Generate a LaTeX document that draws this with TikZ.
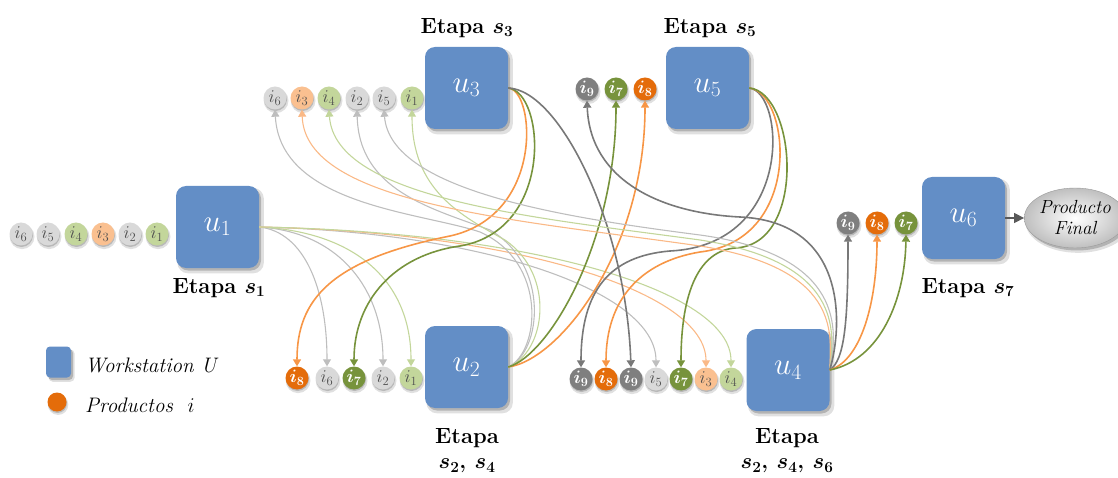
\RequirePackage{fix-cm}
\documentclass[tikz,border=0pt]{standalone}
\usetikzlibrary{arrows.meta,shapes.geometric,shadows}

% palette
\definecolor{wsblue}{RGB}{99,142,198}
\definecolor{cLG}{RGB}{217,217,217}
\definecolor{cGr}{RGB}{195,214,155}
\definecolor{cPe}{RGB}{250,192,144}
\definecolor{cDO}{RGB}{228,108,10}
\definecolor{cDG}{RGB}{119,147,60}
\definecolor{cDK}{RGB}{127,127,127}
\definecolor{cTx}{RGB}{80,80,80}
\definecolor{eLG}{RGB}{190,190,190}
\definecolor{eGr}{RGB}{195,214,155}
\definecolor{ePe}{RGB}{250,185,135}
\definecolor{eDO}{RGB}{247,150,70}
\definecolor{eDG}{RGB}{119,147,60}
\definecolor{eDK}{RGB}{120,120,120}

\tikzset{
  softshadow/.style={
    drop shadow={shadow xshift=3pt,shadow yshift=-3.5pt,opacity=0.12,fill=black,shadow scale=1.04},
    drop shadow={shadow xshift=2pt,shadow yshift=-2.5pt,opacity=0.2,fill=black}},
  dotshadow/.style={
    drop shadow={shadow xshift=1pt,shadow yshift=-2.5pt,opacity=0.12,fill=black,shadow scale=1.08},
    drop shadow={shadow xshift=0.5pt,shadow yshift=-1.5pt,opacity=0.18,fill=black}},
  ws/.style={fill=wsblue, rounded corners=10pt, minimum width=83pt, minimum height=82pt,
    inner sep=0pt, text=white, font=\fontsize{31}{34}\selectfont, softshadow},
  item/.style={circle, minimum size=23pt, inner sep=0pt, dotshadow,
    font=\fontsize{18}{20}\selectfont},
  pgray/.style={item, fill=cLG, text=cTx},
  pgreen/.style={item, fill=cGr, text=cTx},
  ppeach/.style={item, fill=cPe, text=cTx},
  pdorange/.style={item, fill=cDO, text=white, font=\fontsize{18}{20}\selectfont\boldmath},
  pdgreen/.style={item, fill=cDG, text=white, font=\fontsize{18}{20}\selectfont\boldmath},
  pdgray/.style={item, fill=cDK, text=white, font=\fontsize{18}{20}\selectfont\boldmath},
  etapa/.style={inner sep=0pt, font=\fontsize{22}{25}\selectfont\bfseries\boldmath},
  legend/.style={inner sep=0pt, anchor=west, font=\fontsize{21}{24}\selectfont\itshape},
  flow/.style={-{Triangle[width=8pt,length=7pt]}},
  lgray/.style={flow, draw=eLG, line width=1.1pt},
  lgreen/.style={flow, draw=eGr, line width=1.1pt},
  lpeach/.style={flow, draw=ePe, line width=1.1pt},
  dorange/.style={flow, draw=eDO, line width=1.6pt},
  dgreen/.style={flow, draw=eDG, line width=1.6pt},
  dgray/.style={flow, draw=eDK, line width=1.6pt},
}

\begin{document}
\begin{tikzpicture}[x=1pt,y=-1pt]
\useasboundingbox (0,0) rectangle (1118,478);

% ---------- workstations ----------
\node[ws] (u1) at (217.5,227) {$u_1$};
\node[ws] (u3) at (466.5,88)  {$u_3$};
\node[ws] (u5) at (707.5,88)  {$u_5$};
\node[ws] (u2) at (466.5,367) {$u_2$};
\node[ws] (u4) at (788,370)   {$u_4$};
\node[ws] (u6) at (963.5,218) {$u_6$};

% ---------- final product ----------
\node[ellipse, minimum width=84pt, minimum height=60pt, inner sep=0pt, draw=black!40,
      inner color=white, outer color=black!25, softshadow, align=center,
      font=\fontsize{19}{21}\selectfont\itshape] (pf) at (1075,218) {Producto\\Final};
\draw[line width=1.5pt, draw=black!65, -{Triangle[width=10pt,length=10pt]}] (u6.east) -- (pf.west);

% ---------- stage labels ----------
\node[etapa] (e1) at (219,288) {Etapa $s_1$};
\node[etapa] (e3) at (467,28)  {Etapa $s_3$};
\node[etapa] (e5) at (710,28)  {Etapa $s_5$};
\node[etapa] (e2a) at (467,438) {Etapa};
\node[etapa] (e2b) at (467,466) {$s_2$, $s_4$};
\node[etapa] (e4a) at (787,438) {Etapa};
\node[etapa] (e4b) at (787,466) {$s_2$, $s_4$, $s_6$};
\node[etapa] (e7) at (968,288) {Etapa $s_7$};

% ---------- queue in front of u1 ----------
\node[pgray]  (a6) at (21,234)  {$i_6$};
\node[pgray]  (a5) at (48,234)  {$i_5$};
\node[pgreen] (a4) at (76,234)  {$i_4$};
\node[ppeach] (a3) at (103,234) {$i_3$};
\node[pgray]  (a2) at (130,234) {$i_2$};
\node[pgreen] (a1) at (157,234) {$i_1$};

% ---------- queue in front of u3 ----------
\node[pgray]  (t6) at (275,98) {$i_6$};
\node[ppeach] (t3) at (302,98) {$i_3$};
\node[pgreen] (t4) at (329,98) {$i_4$};
\node[pgray]  (t2) at (357,98) {$i_2$};
\node[pgray]  (t5) at (384,98) {$i_5$};
\node[pgreen] (t1) at (412,98) {$i_1$};

% ---------- queue in front of u5 ----------
\node[pdgray]   (f9) at (587,89) {$i_9$};
\node[pdgreen]  (f7) at (616,89) {$i_7$};
\node[pdorange] (f8) at (645,89) {$i_8$};

% ---------- queue in front of u2 ----------
\node[pdorange] (b8) at (297,378) {$i_8$};
\node[pgray]    (b6) at (327,378) {$i_6$};
\node[pdgreen]  (b7) at (354,378) {$i_7$};
\node[pgray]    (b2) at (383,378) {$i_2$};
\node[pgreen]   (b1) at (411,378) {$i_1$};

% ---------- queue in front of u4 ----------
\node[pdgray]   (c9a) at (581,379) {$i_9$};
\node[pdorange] (c8)  at (606,379) {$i_8$};
\node[pdgray]   (c9b) at (631,379) {$i_9$};
\node[pgray]    (c5)  at (656,379) {$i_5$};
\node[pdgreen]  (c7)  at (681,379) {$i_7$};
\node[ppeach]   (c3)  at (706,379) {$i_3$};
\node[pgreen]   (c4)  at (731,379) {$i_4$};

% ---------- queue in front of u6 ----------
\node[pdgray]   (g9) at (848,223) {$i_9$};
\node[pdorange] (g8) at (877,223) {$i_8$};
\node[pdgreen]  (g7) at (906,223) {$i_7$};

% ---------- legend ----------
\node[fill=wsblue, rounded corners=4pt, minimum width=25pt, minimum height=31pt,
      inner sep=0pt, softshadow] (lb) at (58.5,362) {};
\node[legend] (lbt) at (85,365) {Workstation U};
\node[circle, fill=cDO, minimum size=19pt, inner sep=0pt, dotshadow] (lc) at (57,402) {};
\node[legend] (lct) at (85,405) {Productos\ \ $i$};

% ---------- flows out of u1 ----------
\draw[lgray]  (u1.east) .. controls (305,232) and (327,290) .. (b6.north);
\draw[lgray]  (u1.east) .. controls (340,232) and (383,290) .. (b2.north);
\draw[lgreen] (u1.east) .. controls (360,232) and (411,285) .. (b1.north);
\draw[lgray]  (u1.east) .. controls (480,232) and (656,290) .. (c5.north);
\draw[lpeach] (u1.east) .. controls (510,232) and (706,290) .. (c3.north);
\draw[lgreen] (u1.east) .. controls (530,232) and (731,290) .. (c4.north);

% ---------- flows out of u2 ----------
\draw[lgray]  (u2.east) .. controls (540,352) and (548,262) .. (480,232)
                        .. controls (420,212) and (280,205) .. (t6.south);
\draw[lgray]  (u2.east) .. controls (542,352) and (550,265) .. (490,230)
                        .. controls (430,208) and (359,190) .. (t2.south);
\draw[lgreen] (u2.east) .. controls (546,352) and (556,275) .. (505,240)
                        .. controls (460,215) and (412,190) .. (t1.south);
\draw[dorange] (u2.east) .. controls (560,360) and (645,250) .. (f8.south);
\draw[dgreen]  (u2.east) .. controls (550,355) and (616,240) .. (f7.south);

% ---------- flows out of u3 ----------
\draw[dorange] (u3.east) .. controls (535,90) and (545,215) .. (450,236)
                         .. controls (330,260) and (297,300) .. (b8.north);
\draw[dgreen]  (u3.east) .. controls (545,92) and (555,230) .. (460,246)
                         .. controls (395,255) and (354,300) .. (b7.north);
\draw[dgray]   (u3.east) .. controls (560,90) and (626,225) .. (c9b.north);

% ---------- flows out of u5 ----------
\draw[dgray]   (u5.east) .. controls (785,92) and (795,245) .. (670,251)
                         .. controls (610,256) and (581,290) .. (c9a.north);
\draw[dorange] (u5.east) .. controls (790,92) and (805,240) .. (700,252)
                         .. controls (640,262) and (606,300) .. (c8.north);
\draw[dgreen]  (u5.east) .. controls (796,92) and (808,245) .. (735,248)
                         .. controls (700,251) and (681,290) .. (c7.north);

% ---------- flows out of u4 ----------
\draw[lpeach] (u4.east) .. controls (832,330) and (838,268) .. (700,246)
                        .. controls (520,220) and (305,205) .. (t3.south);
\draw[lgreen] (u4.east) .. controls (835,330) and (842,262) .. (700,240)
                        .. controls (540,218) and (335,200) .. (t4.south);
\draw[lgray]  (u4.east) .. controls (838,330) and (845,255) .. (700,235)
                        .. controls (560,217) and (390,190) .. (t5.south);
\draw[dgray]  (u4.east) .. controls (842,330) and (850,222) .. (740,217)
                        .. controls (660,213) and (590,180) .. (f9.south);
\draw[dgray]   (u4.east) .. controls (845,360) and (848,320) .. (g9.south);
\draw[dorange] (u4.east) .. controls (862,360) and (877,300) .. (g8.south);
\draw[dgreen]  (u4.east) .. controls (880,360) and (905,300) .. (g7.south);

\end{tikzpicture}
\end{document}
